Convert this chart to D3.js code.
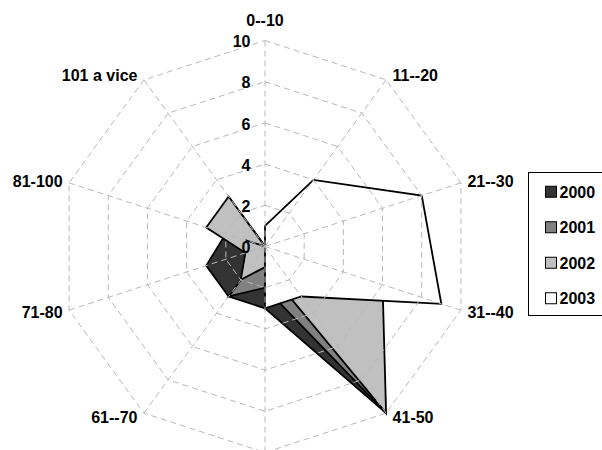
<!DOCTYPE html>
<html>
<head>
<meta charset="utf-8">
<script src="https://cdn.jsdelivr.net/npm/d3@7"></script>
<style>
  html, body { margin: 0; padding: 0; background: #ffffff; }
  svg { display: block; }
  text { font-family: Arial, "Liberation Sans", sans-serif; font-weight: bold; font-size: 16px; fill: #000; }
</style>
</head>
<body>
<svg id="chart" width="602" height="450"></svg>
<script>
// Age bands around the radar, clockwise from the top
const categories = ["0--10", "11--20", "21--30", "31--40", "41-50", "51-60", "61--70", "71-80", "81-100", "101 a vice"];
const seriesNames = ["2000", "2001", "2002", "2003"];
const values2000 = [0, 1, 2, 3, 10, 3, 3, 3, 2, 1];
const values2001 = [0, 1, 3, 4, 10, 2, 3, 0, 1, 2];
const values2002 = [0, 2, 5, 6, 10, 1, 2, 1, 3, 3];
const values2003 = [1, 4, 8, 9, 3, 3, 0, 0, 1, 0];
const radialTicks = [0, 2, 4, 6, 8, 10];
const seriesFills = ["#333333", "#808080", "#c0c0c0", "#ffffff"];

const seriesValues = [values2000, values2001, values2002, values2003];
const series = seriesNames.map((name, i) => ({
  name,
  fill: seriesFills[i],
  points: categories.map((c, j) => ({ cat: c, v: seriesValues[i][j] }))
}));

const W = 602, H = 450;
const svg = d3.select("#chart");
const cx = 265, cy = 246.5;
const g = svg.append("g").attr("transform", `translate(${cx},${cy})`);

const angle = d3.scaleBand().domain(categories).range([0, 2 * Math.PI]).paddingInner(0).paddingOuter(0).align(0);
const r = d3.scaleLinear().domain([0, 10]).range([0, 206]);

const radial = d3.lineRadial()
  .angle(d => angle(d.cat))
  .radius(d => r(d.v))
  .curve(d3.curveLinearClosed);

// Filled series areas, earliest year underneath
g.append("g").selectAll("path")
  .data(series)
  .join("path")
  .attr("d", d => radial(d.points))
  .attr("fill", d => d.fill)
  .attr("stroke", "#000")
  .attr("stroke-width", 1.8)
  .attr("stroke-linejoin", "miter");

// Dashed web drawn over the areas
const grid = g.append("g")
  .attr("fill", "none")
  .attr("stroke", "#b8b8b8")
  .attr("stroke-width", 1)
  .attr("stroke-dasharray", "6,4");

grid.selectAll("path.ring")
  .data(radialTicks.filter(t => t > 0))
  .join("path")
  .attr("class", "ring")
  .attr("d", t => radial(categories.map(c => ({ cat: c, v: t }))));

grid.selectAll("line.spoke")
  .data(categories)
  .join("line")
  .attr("class", "spoke")
  .attr("x1", 0).attr("y1", 0)
  .attr("x2", c => r(10) * Math.sin(angle(c)))
  .attr("y2", c => -r(10) * Math.cos(angle(c)));

// Value labels along the top spoke
g.append("g").selectAll("text")
  .data(radialTicks)
  .join("text")
  .attr("x", -14.5)
  .attr("y", t => -r(t) + 1)
  .attr("dy", "0.36em")
  .attr("text-anchor", "end")
  .text(t => t);

// Category labels at the ends of the spokes; a label that would land
// below the bottom edge of the drawing is left out
function labelPos(c) {
  const a = angle(c);
  const s = Math.sin(a), co = Math.cos(a);
  const ex = r(10) * s, ey = -r(10) * co;
  if (Math.abs(s) < 0.1) {
    return { x: ex, y: ey - 20 * Math.sign(co), anchor: "middle" };
  }
  return { x: ex + (s > 0 ? 6.5 : -6.5), y: ey - 5.5 * co, anchor: s > 0 ? "start" : "end" };
}
g.append("g").selectAll("text")
  .data(categories.filter(c => cy + labelPos(c).y < H - 8))
  .join("text")
  .each(function (c) {
    const p = labelPos(c);
    d3.select(this)
      .attr("x", p.x).attr("y", p.y)
      .attr("text-anchor", p.anchor)
      .attr("dy", "0.36em")
      .text(c);
  });

// Legend
const legendY = d3.scaleBand().domain(seriesNames).range([174, 316]);
const legend = svg.append("g");
legend.append("rect")
  .attr("x", 528.5).attr("y", 172.5)
  .attr("width", 100).attr("height", 143)
  .attr("fill", "#fff").attr("stroke", "#000").attr("stroke-width", 1);
const item = legend.selectAll("g.item")
  .data(series)
  .join("g")
  .attr("class", "item")
  .attr("transform", d => `translate(0,${legendY(d.name) + legendY.bandwidth() / 2})`);
item.append("rect")
  .attr("x", 545.5).attr("y", -5.5)
  .attr("width", 11).attr("height", 11)
  .attr("fill", d => d.fill).attr("stroke", "#000").attr("stroke-width", 1);
item.append("text")
  .attr("x", 559.5).attr("y", 0).attr("dy", "0.36em")
  .text(d => d.name);
</script>
</body>
</html>
